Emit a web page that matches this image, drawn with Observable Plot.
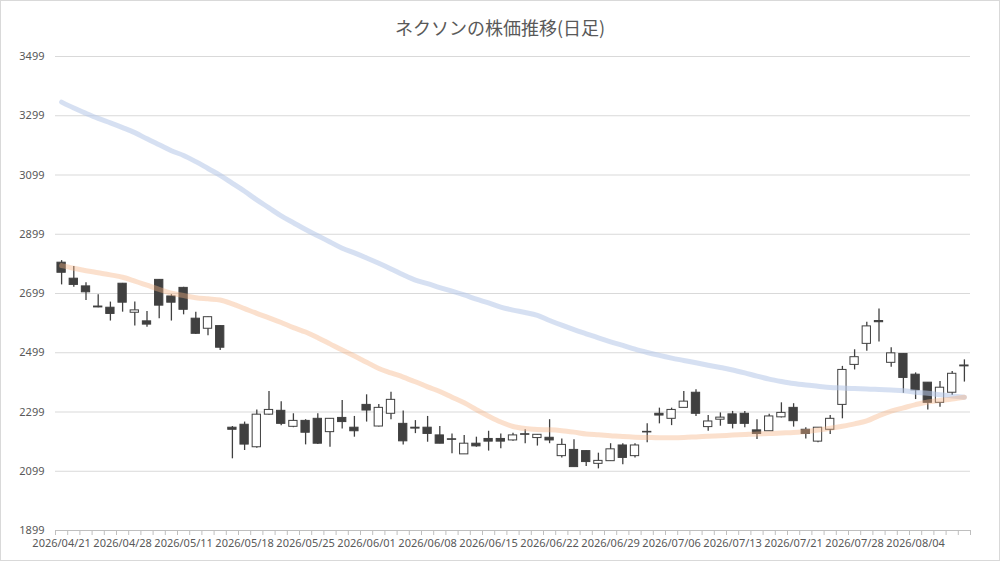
<!DOCTYPE html>
<html><head><meta charset="utf-8">
<script src="https://cdn.jsdelivr.net/npm/d3@7"></script>
<script src="https://cdn.jsdelivr.net/npm/@observablehq/plot@0.6"></script>
<style>
html,body{margin:0;padding:0;background:#fff;}
#wrap{width:1000px;height:561px;box-sizing:border-box;border:1px solid #d9d9d9;overflow:hidden;}
#title{height:38px;box-sizing:border-box;padding-top:14px;line-height:24px;font-size:18px;color:#595959;text-align:center;font-family:"Noto Sans CJK JP","Noto Sans",sans-serif;}
</style></head>
<body>
<div id="wrap"><div id="title">ネクソンの株価推移(日足)</div><div id="chart"></div></div>
<script>
const dates = ["2026/04/21","2026/04/22","2026/04/23","2026/04/24","2026/04/27",
"2026/04/28","2026/04/30","2026/05/01","2026/05/07","2026/05/08",
"2026/05/11","2026/05/12","2026/05/13","2026/05/14","2026/05/15",
"2026/05/18","2026/05/19","2026/05/20","2026/05/21","2026/05/22",
"2026/05/25","2026/05/26","2026/05/27","2026/05/28","2026/05/29",
"2026/06/01","2026/06/02","2026/06/03","2026/06/04","2026/06/05",
"2026/06/08","2026/06/09","2026/06/10","2026/06/11","2026/06/12",
"2026/06/15","2026/06/16","2026/06/17","2026/06/18","2026/06/19",
"2026/06/22","2026/06/23","2026/06/24","2026/06/25","2026/06/26",
"2026/06/29","2026/06/30","2026/07/01","2026/07/02","2026/07/03",
"2026/07/06","2026/07/07","2026/07/08","2026/07/09","2026/07/10",
"2026/07/13","2026/07/14","2026/07/15","2026/07/16","2026/07/17",
"2026/07/21","2026/07/22","2026/07/23","2026/07/24","2026/07/27",
"2026/07/28","2026/07/29","2026/07/30","2026/07/31","2026/08/03",
"2026/08/04","2026/08/05","2026/08/06","2026/08/07","2026/08/10"];
const open = [2803,2749,2723,2655,2651,2732,2634,2605,2745,2689,2718,2614,2580,2589,2246,2256,2180,2290,2303,2249,2269,2276,2231,2279,2246,2323,2250,2293,2259,2246,2246,2220,2207,2156,2192,2208,2208,2203,2224,2211,2212,2150,2171,2167,2124,2133,2186,2150,2232,2293,2276,2313,2364,2248,2273,2291,2293,2237,2234,2281,2313,2239,2199,2239,2323,2458,2529,2606,2465,2495,2425,2398,2330,2364,2456];
const high = [2810,2790,2735,2695,2670,2733,2670,2638,2746,2695,2720,2636,2620,2590,2250,2265,2306,2368,2334,2293,2273,2293,2277,2338,2284,2357,2324,2366,2302,2270,2284,2250,2225,2220,2214,2234,2225,2227,2239,2223,2273,2208,2205,2168,2160,2192,2192,2192,2259,2312,2312,2368,2374,2287,2296,2301,2301,2273,2291,2330,2327,2246,2246,2287,2453,2509,2602,2647,2516,2496,2431,2398,2402,2436,2475];
const low = [2728,2720,2675,2651,2606,2636,2589,2585,2614,2606,2627,2561,2556,2507,2141,2169,2177,2288,2253,2246,2188,2189,2180,2242,2214,2265,2248,2273,2188,2226,2197,2192,2158,2156,2180,2167,2175,2200,2192,2184,2192,2144,2113,2115,2107,2133,2121,2144,2195,2259,2253,2313,2284,2234,2251,2242,2246,2206,2234,2279,2248,2208,2195,2223,2276,2441,2504,2535,2450,2362,2341,2306,2315,2355,2400];
const close = [2769,2728,2703,2652,2630,2668,2642,2594,2658,2668,2644,2563,2619,2516,2239,2189,2290,2306,2259,2269,2229,2192,2276,2265,2234,2304,2313,2340,2200,2243,2225,2192,2205,2192,2183,2199,2199,2220,2222,2222,2203,2188,2113,2130,2134,2173,2144,2186,2230,2287,2306,2334,2293,2267,2280,2259,2259,2225,2284,2296,2268,2225,2246,2276,2441,2484,2588,2602,2497,2414,2372,2330,2381,2428,2453];
const maShort = [2793,2784,2776,2769,2762,2754,2741,2727,2713,2700,2692,2685,2681,2677,2664,2648,2632,2617,2601,2584,2569,2550,2529,2508,2488,2467,2446,2431,2417,2401,2384,2368,2349,2330,2307,2285,2265,2250,2243,2240,2239,2236,2231,2225,2222,2219,2216,2214,2213,2212,2212,2213,2215,2217,2219,2221,2223,2225,2226,2228,2230,2233,2238,2244,2251,2259,2269,2287,2302,2313,2324,2333,2338,2343,2349];
const maLong = [3345,3325,3307,3290,3275,3259,3242,3221,3201,3181,3165,3144,3121,3098,3071,3044,3015,2988,2961,2938,2915,2894,2873,2852,2836,2819,2801,2782,2762,2744,2732,2719,2707,2694,2680,2667,2653,2643,2635,2625,2608,2592,2577,2563,2549,2536,2524,2511,2500,2490,2481,2473,2465,2457,2449,2441,2431,2420,2410,2402,2395,2390,2386,2382,2380,2378,2377,2375,2373,2371,2366,2362,2357,2353,2349];
const yTicks = [1899,2099,2299,2499,2699,2899,3099,3299,3499];
const labelEvery = 5;

const rows = dates.map((d, i) => ({i, date: d, o: open[i], h: high[i], l: low[i], c: close[i], s: maShort[i], m: maLong[i]}));
const n = dates.length;
const boundaries = d3.range(n + 1).map(k => k - 0.5);
const labelIdx = d3.range(0, n, labelEvery);
const half = 0.34;
const dark = "#404040";
const font = "'Noto Sans','Noto Sans CJK JP',sans-serif";

const chart = Plot.plot({
  width: 998, height: 521,
  marginTop: 17, marginBottom: 30, marginLeft: 54, marginRight: 29,
  style: {fontFamily: font, fontSize: "11px", color: "#595959", background: "white"},
  x: {type: "linear", domain: [-0.5, n - 0.5]},
  y: {domain: [1899, 3499]},
  marks: [
    Plot.gridY(yTicks, {stroke: "#d9d9d9", strokeOpacity: 1}),
    Plot.ruleY([1899], {stroke: "#bfbfbf"}),
    Plot.axisY(yTicks, {tickSize: 0, tickPadding: 11, label: null, tickFormat: d => String(d), fill: "#595959", fontSize: 11}),
    Plot.axisX(boundaries, {tickSize: 5, tickFormat: () => "", stroke: "#bfbfbf", label: null}),
    Plot.axisX(labelIdx, {tickSize: 0, tickPadding: 9, tickFormat: i => dates[i], label: null, fill: "#595959", fontSize: 11}),
    Plot.ruleX(rows, {x: "i", y1: "l", y2: "h", stroke: dark, strokeWidth: 1.3}),
    Plot.rect(rows, {x1: d => d.i - half, x2: d => d.i + half, y1: "o", y2: "c",
      fill: d => d.c >= d.o ? "white" : dark, stroke: dark, strokeWidth: 1}),
    Plot.line(rows, {x: "i", y: "m", stroke: "#b4c7e7", strokeWidth: 5, strokeOpacity: 0.55, strokeLinecap: "round", curve: "catmull-rom"}),
    Plot.line(rows, {x: "i", y: "s", stroke: "#f4b183", strokeWidth: 5, strokeOpacity: 0.4, strokeLinecap: "round", curve: "catmull-rom"})
  ]
});
document.getElementById("chart").appendChild(chart);
</script>
</body></html>
